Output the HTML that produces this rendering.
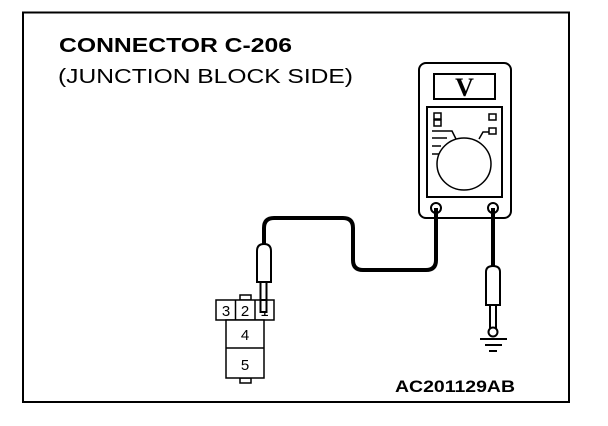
<!DOCTYPE html>
<html><head><meta charset="utf-8"><style>
html,body{margin:0;padding:0;background:#fff;}
svg{display:block;}
</style></head><body>
<svg width="608" height="426" viewBox="0 0 608 426" xmlns="http://www.w3.org/2000/svg">
<rect x="0" y="0" width="608" height="426" fill="#fff"/>
<rect x="23" y="12.5" width="546" height="389.5" fill="none" stroke="#000" stroke-width="2"/>
<text x="59" y="52" font-family="Liberation Sans, sans-serif" font-weight="bold" font-size="20" textLength="233" lengthAdjust="spacingAndGlyphs">CONNECTOR C-206</text>
<text x="58" y="83" font-family="Liberation Sans, sans-serif" font-size="20" textLength="295" lengthAdjust="spacingAndGlyphs">(JUNCTION BLOCK SIDE)</text>
<text x="395" y="392" font-family="Liberation Sans, sans-serif" font-weight="bold" font-size="17" textLength="120" lengthAdjust="spacingAndGlyphs">AC201129AB</text>

<!-- meter -->
<rect x="419" y="63" width="92" height="155" rx="7" fill="#fff" stroke="#000" stroke-width="2"/>
<rect x="434" y="74" width="61" height="25" fill="#fff" stroke="#000" stroke-width="2"/>
<text x="464.5" y="96" text-anchor="middle" font-family="Liberation Serif, serif" font-weight="bold" font-size="26">V</text>
<rect x="427" y="107" width="75" height="90" fill="#fff" stroke="#000" stroke-width="2"/>
<rect x="434" y="113" width="7" height="6" fill="none" stroke="#000" stroke-width="1.5"/>
<rect x="434" y="120" width="7" height="6" fill="none" stroke="#000" stroke-width="1.5"/>
<rect x="489" y="114" width="7" height="6" fill="none" stroke="#000" stroke-width="1.5"/>
<rect x="489" y="128" width="7" height="6" fill="none" stroke="#000" stroke-width="1.5"/>
<ellipse cx="464" cy="164" rx="27" ry="26" fill="none" stroke="#000" stroke-width="1.5"/>
<path d="M432 131 H452 L456 139" fill="none" stroke="#000" stroke-width="1.5"/>
<path d="M489 132 H483 L479 139" fill="none" stroke="#000" stroke-width="1.5"/>
<path d="M432 138 H447 M432 146 H441 M432 154 H439" fill="none" stroke="#000" stroke-width="1.5"/>
<circle cx="436" cy="208" r="5" fill="#fff" stroke="#000" stroke-width="2"/>
<circle cx="493" cy="208" r="5" fill="#fff" stroke="#000" stroke-width="2"/>

<!-- left lead -->
<path d="M436 208 V260 Q436 270 426 270 H363 Q353 270 353 260 V228 Q353 218 343 218 H274 Q264 218 264 228 V246" fill="none" stroke="#000" stroke-width="4"/>
<path d="M257 282 V251 Q257 244 264 244 Q271 244 271 251 V282 Z" fill="#fff" stroke="#000" stroke-width="2"/>
<rect x="260.5" y="282" width="6" height="30" fill="#fff" stroke="#000" stroke-width="2"/>

<!-- right lead -->
<line x1="493" y1="208" x2="493" y2="268" stroke="#000" stroke-width="4"/>
<path d="M486 305 V272 Q486 266 493 266 Q500 266 500 272 V305 Z" fill="#fff" stroke="#000" stroke-width="2"/>
<rect x="490" y="305" width="6" height="23" fill="#fff" stroke="#000" stroke-width="2"/>
<circle cx="493" cy="332" r="4.5" fill="#fff" stroke="#000" stroke-width="2"/>
<path d="M480 339 H507 M485 345 H502 M489 351 H497" stroke="#000" stroke-width="2"/>

<!-- connector -->
<rect x="240" y="295" width="11" height="5" fill="#fff" stroke="#000" stroke-width="1.5"/>
<rect x="240" y="378" width="11" height="5" fill="#fff" stroke="#000" stroke-width="1.5"/>
<rect x="216" y="300" width="58" height="20" fill="#fff" stroke="#000" stroke-width="1.5"/>
<line x1="235.5" y1="300" x2="235.5" y2="320" stroke="#000" stroke-width="1.5"/>
<line x1="255" y1="300" x2="255" y2="320" stroke="#000" stroke-width="1.5"/>
<rect x="226" y="320" width="38" height="58" fill="#fff" stroke="#000" stroke-width="1.5"/>
<line x1="226" y1="348" x2="264" y2="348" stroke="#000" stroke-width="1.5"/>
<g font-family="Liberation Sans, sans-serif" font-size="15" text-anchor="middle">
<text x="226" y="316">3</text>
<text x="245" y="316">2</text>
<text x="264.5" y="316">1</text>
<text x="245" y="340">4</text>
<text x="245" y="370">5</text>
</g>
<rect x="260.5" y="300" width="6" height="12" fill="#fff" stroke="#000" stroke-width="2"/>
</svg>
</body></html>
